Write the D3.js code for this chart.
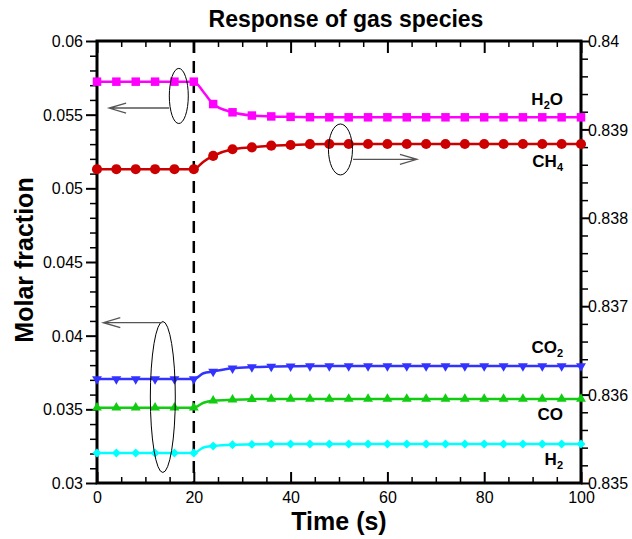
<!DOCTYPE html>
<html>
<head>
<meta charset="utf-8">
<script src="https://cdn.jsdelivr.net/npm/d3@7"></script>
<style>
  body { margin: 0; background: #fff; }
  svg { font-family: "Liberation Sans", Arial, sans-serif; }
</style>
</head>
<body>
<svg id="chart" width="632" height="539"></svg>
<script>
'use strict';

// time (s) of the sampled points; markers sit on every 4 s
const times = [0, 4, 8, 12, 16, 20, 22, 24, 28, 32, 36, 40, 44, 48, 52, 56, 60,
    64, 68, 72, 76, 80, 84, 88, 92, 96, 100];

// left axis species
const h2o = [0.05724, 0.05724, 0.05724, 0.05724, 0.05724, 0.05724, 0.05654, 0.05572,
    0.05516, 0.05494, 0.05488, 0.05485, 0.05483, 0.05482, 0.05482, 0.05482, 0.05482,
    0.05482, 0.05482, 0.05482, 0.05482, 0.05482, 0.05482, 0.05482, 0.05482, 0.05482, 0.05482];
const co2 = [0.03706, 0.03706, 0.03706, 0.03706, 0.03706, 0.03706, 0.03745, 0.03757,
    0.03779, 0.03787, 0.03790, 0.03792, 0.03794, 0.03794, 0.03794, 0.03794, 0.03794,
    0.03794, 0.03794, 0.03794, 0.03794, 0.03794, 0.03794, 0.03794, 0.03794, 0.03794, 0.03794];
const co = [0.03511, 0.03511, 0.03511, 0.03511, 0.03511, 0.03511, 0.03545, 0.03559,
    0.03565, 0.03569, 0.03570, 0.03570, 0.03570, 0.03570, 0.03570, 0.03570, 0.03570,
    0.03570, 0.03570, 0.03570, 0.03570, 0.03570, 0.03570, 0.03570, 0.03570, 0.03570, 0.03570];
const h2 = [0.03204, 0.03204, 0.03204, 0.03204, 0.03204, 0.03204, 0.03241, 0.03251,
    0.03260, 0.03262, 0.03264, 0.03265, 0.03265, 0.03265, 0.03265, 0.03265, 0.03265,
    0.03265, 0.03265, 0.03265, 0.03265, 0.03265, 0.03265, 0.03265, 0.03265, 0.03265, 0.03265];

// right axis species
const ch4 = [0.83855, 0.83855, 0.83855, 0.83855, 0.83855, 0.83855, 0.838635, 0.8387,
    0.838775, 0.838797, 0.838816, 0.838824, 0.838833, 0.838835, 0.838835, 0.838835, 0.838835,
    0.838835, 0.838835, 0.838835, 0.838835, 0.838835, 0.838835, 0.838835, 0.838835, 0.838835, 0.838835];

// tick labels
const xTicks = [0, 20, 40, 60, 80, 100];
const leftTicks = [0.03, 0.035, 0.04, 0.045, 0.05, 0.055, 0.06];
const rightTicks = [0.835, 0.836, 0.837, 0.838, 0.839, 0.84];

const margin = {top: 41, right: 51, bottom: 56, left: 97},
    width = 632 - margin.left - margin.right,
    height = 539 - margin.top - margin.bottom;

const svg = d3.select('#chart');
const g = svg.append('g')
    .attr('transform', `translate(${margin.left},${margin.top})`);

const x = d3.scaleLinear().domain([0, 100]).range([0, width]);
const yL = d3.scaleLinear().domain([0.03, 0.06]).range([height, 0]);
const yR = d3.scaleLinear().domain([0.835, 0.84]).range([height, 0]);

// minor tick values
const xMinor = d3.range(0, 101, 5).filter(d => d % 20 !== 0);
const leftMinor = d3.range(30, 61).filter(d => d % 5 !== 0).map(d => d / 1000);
const rightMinor = d3.range(8350, 8401, 2).filter(d => d % 10 !== 0).map(d => d / 10000);

function styleAxis(sel, w) {
    sel.select('.domain').remove();
    sel.selectAll('.tick line').attr('stroke', '#000').attr('stroke-width', w);
    sel.selectAll('.tick text').attr('fill', '#000').style('font-size', '16px');
}

// bottom axis (ticks inside)
g.append('g').attr('class', 'x-bottom').attr('transform', `translate(0,${height})`)
    .call(d3.axisBottom(x).tickValues(xTicks).tickSize(-11).tickSizeOuter(0).tickPadding(20))
    .call(styleAxis, 2);
g.append('g').attr('transform', `translate(0,${height})`)
    .call(d3.axisBottom(x).tickValues(xMinor).tickSize(-6).tickFormat(''))
    .call(styleAxis, 1.5);
// top axis (ticks inside, no labels)
g.append('g')
    .call(d3.axisTop(x).tickValues(xTicks).tickSize(-12).tickFormat(''))
    .call(styleAxis, 2);
g.append('g')
    .call(d3.axisTop(x).tickValues(xMinor).tickSize(-6).tickFormat(''))
    .call(styleAxis, 1.5);
// left axis (ticks outside)
g.append('g').attr('class', 'y-side')
    .call(d3.axisLeft(yL).tickValues(leftTicks).tickSize(11).tickPadding(3).tickFormat(d => String(d)))
    .call(styleAxis, 2);
g.append('g')
    .call(d3.axisLeft(yL).tickValues(leftMinor).tickSize(7).tickFormat(''))
    .call(styleAxis, 1.5);
// right axis (ticks outside)
g.append('g').attr('class', 'y-side').attr('transform', `translate(${width},0)`)
    .call(d3.axisRight(yR).tickValues(rightTicks).tickSize(8).tickPadding(-1).tickFormat(d => String(d)))
    .call(styleAxis, 2);
g.append('g').attr('transform', `translate(${width},0)`)
    .call(d3.axisRight(yR).tickValues(rightMinor).tickSize(7).tickFormat(''))
    .call(styleAxis, 1.5);

g.selectAll('.x-bottom .tick text').attr('dy', 0);
g.selectAll('.y-side .tick text').attr('dy', '0.35em');

// frame
g.append('rect')
    .attr('width', width).attr('height', height)
    .attr('fill', 'none').attr('stroke', '#000').attr('stroke-width', 3);

// dashed step marker at t = 20 s
g.append('line')
    .attr('x1', x(20)).attr('x2', x(20)).attr('y1', 0).attr('y2', height)
    .attr('stroke', '#000').attr('stroke-width', 2.5).attr('stroke-dasharray', '12,8');

const series = [
    {name: 'H2O', values: h2o, y: yL, color: '#ff00ff', symbol: d3.symbolSquare, size: 72, rotate: 0},
    {name: 'CH4', values: ch4, y: yR, color: '#cc0000', symbol: d3.symbolCircle, size: 80, rotate: 0},
    {name: 'CO2', values: co2, y: yL, color: '#3333ff', symbol: d3.symbolTriangle, size: 42, rotate: 180},
    {name: 'CO', values: co, y: yL, color: '#11cc11', symbol: d3.symbolTriangle, size: 42, rotate: 0},
    {name: 'H2', values: h2, y: yL, color: '#00ffff', symbol: d3.symbolSquare, size: 40, rotate: 45}
];

series.forEach(s => {
    const pts = times.map((t, i) => ({t: t, v: s.values[i]}));
    const line = d3.line()
        .x(d => x(d.t))
        .y(d => s.y(d.v))
        .curve(d3.curveMonotoneX);
    g.append('path')
        .datum(pts)
        .attr('d', line)
        .attr('fill', 'none')
        .attr('stroke', s.color)
        .attr('stroke-width', 2.5);
    g.selectAll(null)
        .data(pts.filter(d => d.t % 4 === 0))
        .join('path')
        .attr('transform', d => `translate(${x(d.t)},${s.y(d.v)}) rotate(${s.rotate})`)
        .attr('d', d3.symbol().type(s.symbol).size(s.size))
        .attr('fill', s.color);
});

// annotation ellipses and arrows (data units)
const ellipses = [
    {t: 16.9, v: 0.05627, rt: 1.96, rv: 0.00187, y: yL},
    {t: 50.3, v: 0.838773, rt: 2.48, rv: 0.000288, y: yR},
    {t: 13.6, v: 0.035837, rt: 2.58, rv: 0.005124, y: yL}
];
const arrows = [
    {t0: 14.9, t1: 2.5, v: 0.055452, y: yL},
    {t0: 52.9, t1: 66.1, v: 0.838662, y: yR},
    {t0: 13.5, t1: 1.3, v: 0.04088, y: yL}
];

ellipses.forEach(e => {
    g.append('ellipse')
        .attr('cx', x(e.t)).attr('cy', e.y(e.v))
        .attr('rx', x(e.rt) - x(0)).attr('ry', Math.abs(e.y(e.v + e.rv) - e.y(e.v)))
        .attr('fill', 'none').attr('stroke', '#000').attr('stroke-width', 1);
});

arrows.forEach(a => {
    const x0 = x(a.t0), x1 = x(a.t1), yy = a.y(a.v);
    const dir = x1 < x0 ? 1 : -1;
    g.append('path')
        .attr('d', `M${x0},${yy}H${x1}M${x1 + dir * 17},${yy - 5}L${x1},${yy}L${x1 + dir * 17},${yy + 5}`)
        .attr('fill', 'none').attr('stroke', '#555').attr('stroke-width', 1.3);
});

// species labels
const labels = [
    {main: 'H', sub: '2', tail: 'O', base: 105},
    {main: 'CH', sub: '4', tail: '', base: 167},
    {main: 'CO', sub: '2', tail: '', base: 353},
    {main: 'CO', sub: '', tail: '', base: 420},
    {main: 'H', sub: '2', tail: '', base: 465}
];
labels.forEach(l => {
    const t = svg.append('text')
        .attr('x', 563).attr('y', l.base)
        .attr('text-anchor', 'end')
        .style('font-size', '17px').style('font-weight', 'bold');
    t.append('tspan').text(l.main);
    if (l.sub) t.append('tspan').attr('dy', 4).style('font-size', '11px').text(l.sub);
    if (l.tail) t.append('tspan').attr('dy', -4).text(l.tail);
});

// titles
svg.append('text')
    .attr('x', 346).attr('y', 27)
    .attr('text-anchor', 'middle')
    .style('font-size', '23px').style('font-weight', 'bold')
    .text('Response of gas species');

svg.append('text')
    .attr('x', margin.left + width / 2).attr('y', 530)
    .attr('text-anchor', 'middle')
    .style('font-size', '25px').style('font-weight', 'bold')
    .text('Time (s)');

svg.append('text')
    .attr('transform', 'translate(33,260) rotate(-90)')
    .attr('text-anchor', 'middle')
    .style('font-size', '25px').style('font-weight', 'bold')
    .text('Molar fraction');
</script>
</body>
</html>
